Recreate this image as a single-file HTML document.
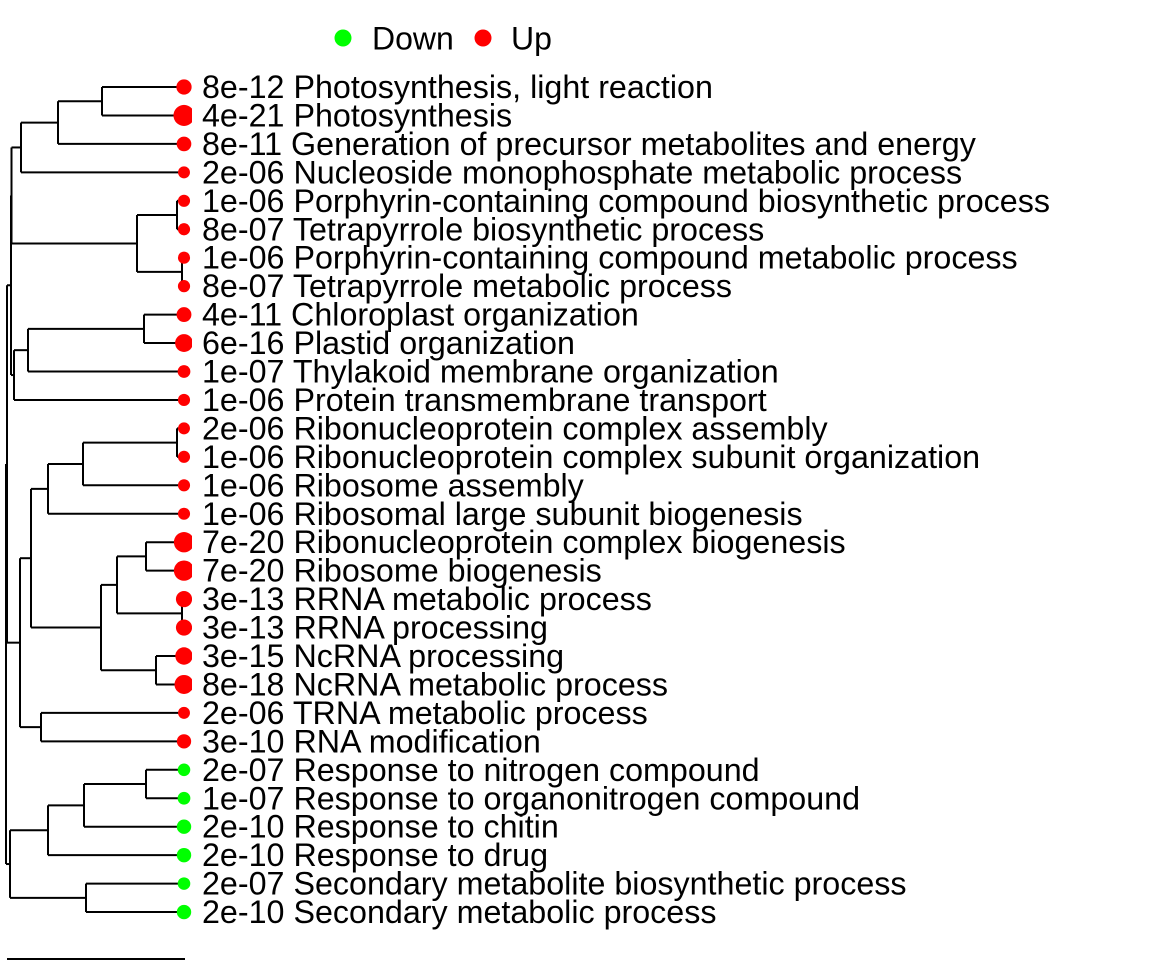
<!DOCTYPE html>
<html><head><meta charset="utf-8"><style>
html,body{margin:0;padding:0;background:#fff;}
svg{display:block;font-family:"Liberation Sans",sans-serif;}
</style></head><body>
<svg id="chart" width="1152" height="960" viewBox="0 0 1152 960">
<defs><clipPath id="clip"><rect x="0" y="0" width="192" height="960"/></clipPath></defs>
<g>
<circle cx="343" cy="38" r="8.5" fill="#00ff00"/>
<text x="372" y="49.5" font-size="32">Down</text>
<circle cx="483" cy="38" r="8.5" fill="#ff0000"/>
<text x="511" y="49.5" font-size="32">Up</text>
</g>
<g id="tree" stroke="#000" stroke-width="2" fill="none"></g>
<g id="dots" clip-path="url(#clip)"></g>
<g id="labels" font-size="32.25"></g>
<line x1="7" y1="959" x2="185" y2="959" stroke="#000" stroke-width="2"/>
</svg>
<script>
const terms = ["Photosynthesis, light reaction","Photosynthesis","Generation of precursor metabolites and energy","Nucleoside monophosphate metabolic process","Porphyrin-containing compound biosynthetic process","Tetrapyrrole biosynthetic process","Porphyrin-containing compound metabolic process","Tetrapyrrole metabolic process","Chloroplast organization","Plastid organization","Thylakoid membrane organization","Protein transmembrane transport","Ribonucleoprotein complex assembly","Ribonucleoprotein complex subunit organization","Ribosome assembly","Ribosomal large subunit biogenesis","Ribonucleoprotein complex biogenesis","Ribosome biogenesis","RRNA metabolic process","RRNA processing","NcRNA processing","NcRNA metabolic process","TRNA metabolic process","RNA modification","Response to nitrogen compound","Response to organonitrogen compound","Response to chitin","Response to drug","Secondary metabolite biosynthetic process","Secondary metabolic process"];
const pvals = ["8e-12","4e-21","8e-11","2e-06","1e-06","8e-07","1e-06","8e-07","4e-11","6e-16","1e-07","1e-06","2e-06","1e-06","1e-06","1e-06","7e-20","7e-20","3e-13","3e-13","3e-15","8e-18","2e-06","3e-10","2e-07","1e-07","2e-10","2e-10","2e-07","2e-10"];
const direction = ["Up","Up","Up","Up","Up","Up","Up","Up","Up","Up","Up","Up","Up","Up","Up","Up","Up","Up","Up","Up","Up","Up","Up","Up","Down","Down","Down","Down","Down","Down"];
// tree: [height, left, right]; leaves are row indices
const tree = [6,
  [7,
    [11,
      [11.5, [21,[58,[102,0,1],2],3], [137,[177,4,5],[182,6,7]]],
      [14,[28,[144,8,9],10],11]],
    [20,
      [31, [48,[83,[177,12,13],14],15], [101,[117,[146,16,17],[182,18,19]],[156,20,21]]],
      [41,22,23]]],
  [10, [48,[84,[146,24,25],26],27], [86,28,29]]];

const NS="http://www.w3.org/2000/svg";
const rowY = i => 87 + i*28.45;
const leafX = 184;
const radius = p => 4.2 + 0.31*(-Math.log10(parseFloat(p)));
const T=document.getElementById('tree'), D=document.getElementById('dots'), L=document.getElementById('labels');
function line(x1,y1,x2,y2){const l=document.createElementNS(NS,'line');
l.setAttribute('x1',x1);l.setAttribute('y1',y1);l.setAttribute('x2',x2);l.setAttribute('y2',y2);


T.appendChild(l);}
function draw(n){
  if(typeof n==='number') return {x:leafX,y:rowY(n)};
  const a=draw(n[1]), b=draw(n[2]), h=n[0];
  line(h,a.y,a.x,a.y); line(h,b.y,b.x,b.y); line(h,a.y,h,b.y);
  return {x:h,y:(a.y+b.y)/2};
}
const root=draw(tree);
terms.forEach((t,i)=>{
  const y=rowY(i);
  const c=document.createElementNS(NS,'circle');
  c.setAttribute('cx',leafX);c.setAttribute('cy',y);c.setAttribute('r',radius(pvals[i]));
  c.setAttribute('fill',direction[i]==='Up'?'#ff0000':'#00ff00');
  
  
  D.appendChild(c);
  const tx=document.createElementNS(NS,'text');
  tx.setAttribute('x',202);tx.setAttribute('y',y+11);
  tx.textContent=pvals[i]+' '+t;
  
  
  L.appendChild(tx);
});
</script>
</body></html>
